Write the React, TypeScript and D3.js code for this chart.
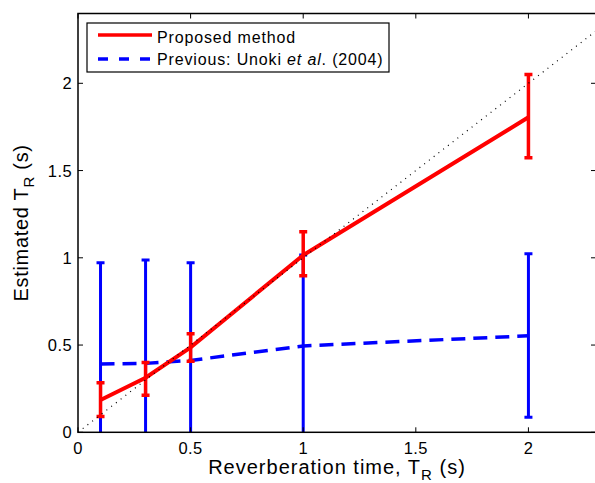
import React, { useEffect, useRef } from "react";
import * as d3 from "d3";

// reverberation times (s)
const trueTR = [0.1, 0.3, 0.5, 1, 2];

// proposed method: mean and +/- error
const proposedMean = [0.185, 0.313, 0.487, 1.015, 1.805];
const proposedUpper = [0.284, 0.4, 0.565, 1.15, 2.05];
const proposedLower = [0.09, 0.212, 0.407, 0.897, 1.574];

// previous method (Unoki et al. 2004)
const previousMean = [0.391, 0.395, 0.412, 0.495, 0.553];
const previousUpper = [0.972, 0.987, 0.972, 1.016, 1.023];
const previousLower = [-0.19, -0.2, -0.15, -0.02, 0.086];

const xTicks = [0, 0.5, 1, 1.5, 2];
const yTicks = [0, 0.5, 1, 1.5, 2];
const legendLabels = ["Proposed method", "Previous: Unoki "];

const App = () => {
  const svgRef = useRef<SVGSVGElement>(null);

  useEffect(() => {
    const W = 595;
    const H = 483;
    const margin = { top: 13.5, right: -1, bottom: 50.7, left: 78 };
    const width = W - margin.left - margin.right;
    const height = H - margin.top - margin.bottom;
    const font = "Liberation Sans, Arial, Helvetica, sans-serif";

    const root = d3.select(svgRef.current);
    root.selectAll("*").remove();
    root.attr("width", W).attr("height", H);

    const x = d3.scaleLinear().domain([0, 2.3]).range([0, width]);
    const y = d3.scaleLinear().domain([0, 2.4]).range([height, 0]);

    root
      .append("defs")
      .append("clipPath")
      .attr("id", "plotClip")
      .append("rect")
      .attr("width", width)
      .attr("height", height);

    const svg = root
      .append("g")
      .attr("transform", `translate(${margin.left},${margin.top})`);

    const plot = svg.append("g").attr("clip-path", "url(#plotClip)");

    const line = d3
      .line<number>()
      .x((d, i) => x(trueTR[i]))
      .y((d) => y(d));

    // previous method dashed line + bars
    plot
      .append("path")
      .datum(previousMean)
      .attr("d", line)
      .attr("fill", "none")
      .attr("stroke", "#0000ff")
      .attr("stroke-width", 3.5)
      .attr("stroke-dasharray", "14 8");

    const errorBars = (
      lo: number[],
      hi: number[],
      color: string,
      w: number
    ) => {
      const g = plot.append("g").attr("stroke", color).attr("stroke-width", w);
      trueTR.forEach((t, i) => {
        const cx = x(t);
        g.append("line")
          .attr("x1", cx)
          .attr("x2", cx)
          .attr("y1", y(lo[i]))
          .attr("y2", y(hi[i]));
        [lo[i], hi[i]].forEach((v) => {
          g.append("line")
            .attr("x1", cx - 4)
            .attr("x2", cx + 4)
            .attr("y1", y(v))
            .attr("y2", y(v));
        });
      });
    };

    errorBars(previousLower, previousUpper, "#0000ff", 3);

    // proposed method
    plot
      .append("path")
      .datum(proposedMean)
      .attr("d", line)
      .attr("fill", "none")
      .attr("stroke", "#ff0000")
      .attr("stroke-width", 4);

    errorBars(proposedLower, proposedUpper, "#ff0000", 3.5);

    // y = x reference
    plot
      .append("line")
      .attr("x1", x(0))
      .attr("y1", y(0))
      .attr("x2", x(2.4))
      .attr("y2", y(2.4))
      .attr("stroke", "#000")
      .attr("stroke-width", 1.2)
      .attr("stroke-dasharray", "1 5");

    // frame
    svg
      .append("rect")
      .attr("width", width)
      .attr("height", height)
      .attr("fill", "none")
      .attr("stroke", "#000")
      .attr("stroke-width", 1.5);

    // inward ticks on all sides
    const tk = 5;
    const ticks = svg.append("g").attr("stroke", "#000").attr("stroke-width", 1);
    xTicks.forEach((t) => {
      ticks.append("line").attr("x1", x(t)).attr("x2", x(t)).attr("y1", height).attr("y2", height - tk);
      ticks.append("line").attr("x1", x(t)).attr("x2", x(t)).attr("y1", 0).attr("y2", tk);
    });
    yTicks.forEach((t) => {
      ticks.append("line").attr("x1", 0).attr("x2", tk).attr("y1", y(t)).attr("y2", y(t));
      ticks.append("line").attr("x1", width).attr("x2", width - tk).attr("y1", y(t)).attr("y2", y(t));
    });

    svg
      .append("g")
      .selectAll("text")
      .data(xTicks)
      .join("text")
      .attr("x", (d) => x(d))
      .attr("y", height + 22)
      .attr("text-anchor", "middle")
      .attr("font-family", font)
      .attr("font-size", 16.5)
      .attr("letter-spacing", 0.4)
      .text((d) => d3.format("")(d));

    svg
      .append("g")
      .selectAll("text")
      .data(yTicks)
      .join("text")
      .attr("x", -6)
      .attr("y", (d) => y(d) + 6)
      .attr("text-anchor", "end")
      .attr("font-family", font)
      .attr("font-size", 16.5)
      .attr("letter-spacing", 0.4)
      .text((d) => d3.format("")(d));

    // axis labels
    const xl = root
      .append("text")
      .attr("x", 337)
      .attr("y", 474)
      .attr("text-anchor", "middle")
      .attr("font-family", font)
      .attr("font-size", 20)
      .attr("letter-spacing", 1);
    xl.append("tspan").text("Reverberation time, T");
    xl.append("tspan").attr("font-size", 15).attr("dy", 6).text("R");
    xl.append("tspan").attr("dy", -6).text(" (s)");

    const yl = root
      .append("text")
      .attr("transform", `translate(28,${margin.top + height / 2}) rotate(-90)`)
      .attr("text-anchor", "middle")
      .attr("font-family", font)
      .attr("font-size", 20)
      .attr("letter-spacing", 0.7);
    yl.append("tspan").text("Estimated T");
    yl.append("tspan").attr("font-size", 15).attr("dy", 6).text("R");
    yl.append("tspan").attr("dy", -6).text(" (s)");

    // legend
    const leg = root.append("g");
    leg
      .append("rect")
      .attr("x", 87)
      .attr("y", 23)
      .attr("width", 302)
      .attr("height", 49)
      .attr("fill", "#fff")
      .attr("stroke", "#000")
      .attr("stroke-width", 1.2);
    leg
      .append("line")
      .attr("x1", 98)
      .attr("x2", 152)
      .attr("y1", 35)
      .attr("y2", 35)
      .attr("stroke", "#ff0000")
      .attr("stroke-width", 3.5);
    leg
      .append("line")
      .attr("x1", 98)
      .attr("x2", 152)
      .attr("y1", 59)
      .attr("y2", 59)
      .attr("stroke", "#0000ff")
      .attr("stroke-width", 3.5)
      .attr("stroke-dasharray", "10 11");
    leg
      .append("text")
      .attr("x", 157)
      .attr("y", 42.5)
      .attr("font-family", font)
      .attr("font-size", 16)
      .attr("letter-spacing", 0.85)
      .text(legendLabels[0]);
    const t2 = leg
      .append("text")
      .attr("x", 157)
      .attr("y", 64.5)
      .attr("font-family", font)
      .attr("font-size", 16)
      .attr("letter-spacing", 0.85);
    t2.append("tspan").text(legendLabels[1]);
    t2.append("tspan").attr("font-style", "italic").text("et al");
    t2.append("tspan").text(". (2004)");
  }, []);

  return (
    <svg
      ref={svgRef}
      style={{ position: "absolute", left: 0, top: 0, background: "#fff" }}
    ></svg>
  );
};

export default App;
